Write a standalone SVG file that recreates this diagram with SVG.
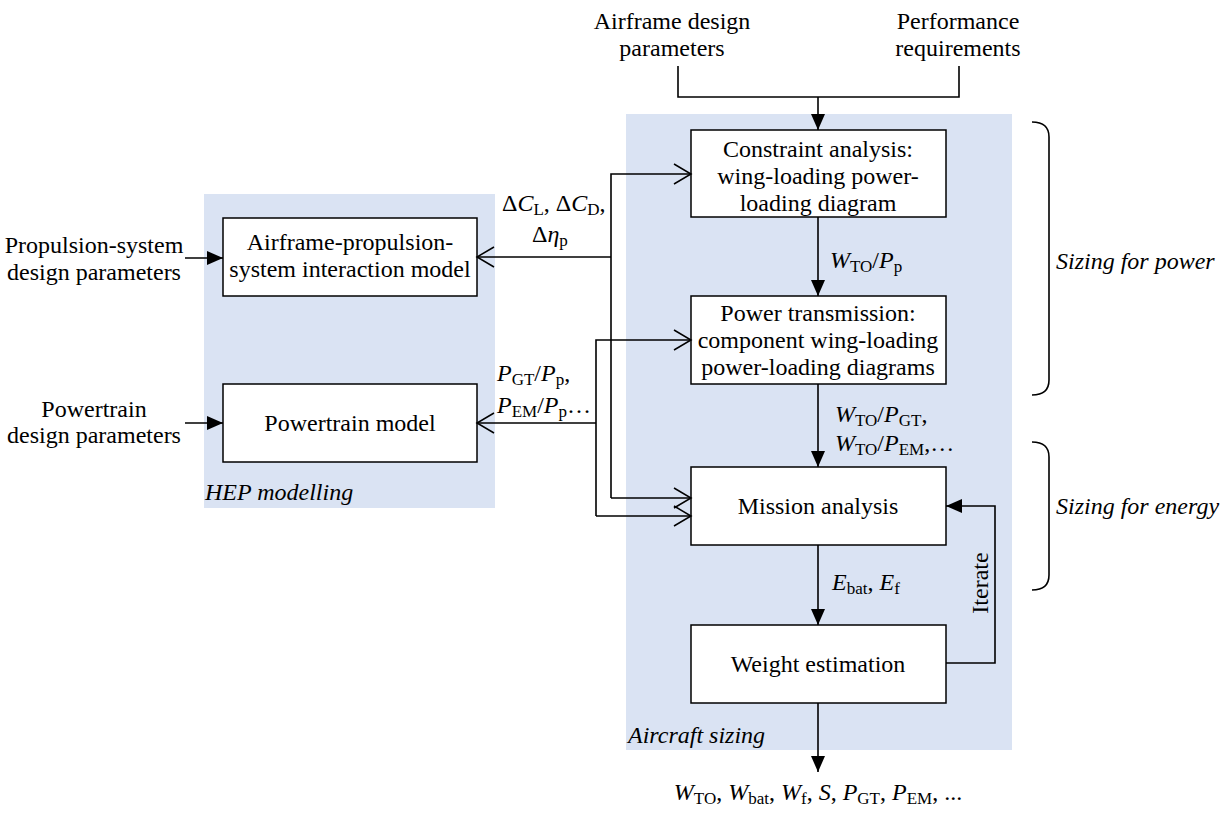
<svg xmlns="http://www.w3.org/2000/svg" width="1229" height="815" viewBox="0 0 1229 815" font-family="Liberation Serif, Times New Roman, serif" font-size="24">
<style>
text{fill:#000}
.c{text-anchor:middle}
.it{font-style:italic}
.i{font-style:italic}
.s{font-size:17px;font-style:normal}
.box{fill:#fff;stroke:#000;stroke-width:1.5}
.reg{fill:#dae3f3}
.ln{fill:none;stroke:#000;stroke-width:1.6}
.fa{marker-end:url(#fa)}
.oa{marker-end:url(#oa)}
</style>
<defs>
<marker id="fa" markerUnits="userSpaceOnUse" viewBox="0 0 16 14" markerWidth="16" markerHeight="14" refX="16" refY="7" orient="auto">
<path d="M0,0 L16,7 L0,14 Z" fill="#000"/>
</marker>
<marker id="oa" markerUnits="userSpaceOnUse" viewBox="0 0 20 22" markerWidth="20" markerHeight="22" refX="18" refY="11" orient="auto">
<path d="M1,1 L18,11 L1,21" fill="none" stroke="#000" stroke-width="1.5"/>
</marker>
</defs>

<g id="region-hep">
<rect class="reg" x="204" y="194" width="291" height="314"/>
<text class="it" x="205" y="500">HEP modelling</text>
</g>
<g id="region-sizing">
<rect class="reg" x="626" y="114" width="386" height="636"/>
<text class="it" x="628" y="743">Aircraft sizing</text>
</g>

<g id="input-airframe">
<text class="c" x="672" y="29">Airframe design</text>
<text class="c" x="672" y="56">parameters</text>
</g>
<g id="input-performance">
<text class="c" x="958" y="29">Performance</text>
<text class="c" x="958" y="56">requirements</text>
</g>
<g id="input-propulsion">
<text class="c" x="94" y="253">Propulsion-system</text>
<text class="c" x="94" y="280">design parameters</text>
</g>
<g id="input-powertrain">
<text class="c" x="94" y="417">Powertrain</text>
<text class="c" x="94" y="443">design parameters</text>
</g>

<g id="node-constraint">
<rect class="box" x="691" y="130" width="255" height="87"/>
<text class="c" x="818" y="157">Constraint analysis:</text>
<text class="c" x="818" y="184">wing-loading power-</text>
<text class="c" x="818" y="211">loading diagram</text>
</g>
<g id="node-power">
<rect class="box" x="691" y="296" width="255" height="88"/>
<text class="c" x="818" y="321">Power transmission:</text>
<text class="c" x="818" y="348">component wing-loading</text>
<text class="c" x="818" y="375">power-loading diagrams</text>
</g>
<g id="node-mission">
<rect class="box" x="691" y="467" width="255" height="78"/>
<text class="c" x="818" y="514">Mission analysis</text>
</g>
<g id="node-weight">
<rect class="box" x="691" y="625" width="255" height="78"/>
<text class="c" x="818" y="672">Weight estimation</text>
</g>
<g id="node-interaction">
<rect class="box" x="223" y="218" width="254" height="78"/>
<text class="c" x="350" y="250">Airframe-propulsion-</text>
<text class="c" x="350" y="277">system interaction model</text>
</g>
<g id="node-powertrain">
<rect class="box" x="223" y="384" width="254" height="78"/>
<text class="c" x="350" y="431">Powertrain model</text>
</g>

<g id="connectors">
<path class="ln" d="M678,66 V97 H959 V66"/>
<path class="ln fa" d="M818,97 V130"/>
<path class="ln fa" d="M818,217 V296"/>
<path class="ln fa" d="M818,384 V467"/>
<path class="ln fa" d="M818,545 V625"/>
<path class="ln fa" d="M818,703 V772"/>
<path class="ln fa" d="M946,663 H995 V506 H946"/>
<path class="ln fa" d="M185,258 H223"/>
<path class="ln fa" d="M185,423 H223"/>
<path class="ln oa" d="M611,257 H477"/>
<path class="ln oa" d="M611,498 V174 H691"/>
<path class="ln oa" d="M611,498 H691"/>
<path class="ln oa" d="M596,423 H477"/>
<path class="ln oa" d="M596,516 V340 H691"/>
<path class="ln oa" d="M596,516 H691"/>
</g>

<g id="labels">
<text x="502" y="211">Δ<tspan class="i">C</tspan><tspan class="s i" dy="4">L</tspan><tspan dy="-4">, Δ</tspan><tspan class="i">C</tspan><tspan class="s i" dy="4">D</tspan><tspan dy="-4">,</tspan></text>
<text x="532" y="242">Δ<tspan class="i">η</tspan><tspan class="s" dy="4">p</tspan></text>
<text x="497" y="381"><tspan class="i">P</tspan><tspan class="s" dy="4">GT</tspan><tspan dy="-4">/</tspan><tspan class="i">P</tspan><tspan class="s" dy="4">p</tspan><tspan dy="-4">,</tspan></text>
<text x="497" y="413"><tspan class="i">P</tspan><tspan class="s" dy="4">EM</tspan><tspan dy="-4">/</tspan><tspan class="i">P</tspan><tspan class="s" dy="4">p</tspan><tspan dy="-4">…</tspan></text>
<text x="830" y="268"><tspan class="i">W</tspan><tspan class="s" dy="4">TO</tspan><tspan dy="-4">/</tspan><tspan class="i">P</tspan><tspan class="s" dy="4">p</tspan></text>
<text x="835" y="422"><tspan class="i">W</tspan><tspan class="s" dy="4">TO</tspan><tspan dy="-4">/</tspan><tspan class="i">P</tspan><tspan class="s" dy="4">GT</tspan><tspan dy="-4">,</tspan></text>
<text x="835" y="451"><tspan class="i">W</tspan><tspan class="s" dy="4">TO</tspan><tspan dy="-4">/</tspan><tspan class="i">P</tspan><tspan class="s" dy="4">EM</tspan><tspan dy="-4">,…</tspan></text>
<text x="832" y="590"><tspan class="i">E</tspan><tspan class="s" dy="4">bat</tspan><tspan dy="-4">, </tspan><tspan class="i">E</tspan><tspan class="s" dy="4">f</tspan></text>
<text class="c" x="818" y="800"><tspan class="i">W</tspan><tspan class="s" dy="4">TO</tspan><tspan dy="-4">, </tspan><tspan class="i">W</tspan><tspan class="s" dy="4">bat</tspan><tspan dy="-4">, </tspan><tspan class="i">W</tspan><tspan class="s" dy="4">f</tspan><tspan dy="-4">, </tspan><tspan class="i">S</tspan>, <tspan class="i">P</tspan><tspan class="s" dy="4">GT</tspan><tspan dy="-4">, </tspan><tspan class="i">P</tspan><tspan class="s" dy="4">EM</tspan><tspan dy="-4">, ...</tspan></text>
<text x="988" y="583" class="c" transform="rotate(-90 988 583)">Iterate</text>
</g>

<g id="brackets">
<path class="ln" d="M1032,122 C1044,122 1049,127 1049,137 V380 C1049,390 1044,395 1032,395"/>
<path class="ln" d="M1032,442 C1044,442 1049,447 1049,457 V575 C1049,585 1044,590 1032,590"/>
<text class="it" x="1056" y="269">Sizing for power</text>
<text class="it" x="1056" y="514">Sizing for energy</text>
</g>
</svg>
